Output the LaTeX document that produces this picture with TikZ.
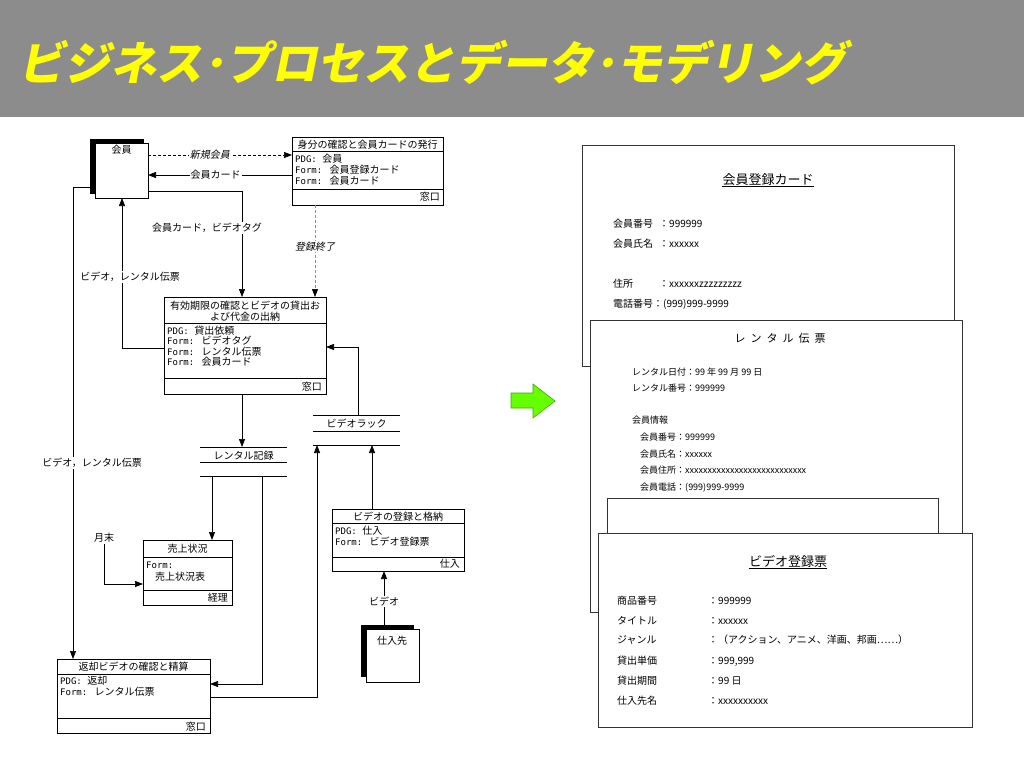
\documentclass[tikz,border=0pt]{standalone}
\usepackage{fontspec}
\setmainfont{Noto Sans CJK JP}
\newfontfamily\jpit[FakeSlant=0.2]{Noto Sans CJK JP}
\newfontfamily\titlefont[FakeSlant=0.2]{Noto Sans CJK JP}
\newfontfamily\monoft{DejaVu Sans Mono}
\usetikzlibrary{arrows.meta,calc}
\definecolor{hdr}{RGB}{140,140,140}
\definecolor{ttl}{RGB}{255,255,0}
\definecolor{grn}{RGB}{102,255,0}
\definecolor{grnd}{RGB}{60,170,0}
\newcommand\mo[1]{{\monoft\fontsize{9}{11}\selectfont #1}}
\begin{document}
\begin{tikzpicture}[x=1pt,y=-1pt,
  dfont/.style={font=\fontsize{10}{12}\selectfont},
  itfont/.style={font=\jpit\fontsize{10}{12}\selectfont},
  box/.style={draw,line width=0.8pt,fill=white,inner sep=0pt,outer sep=0pt,anchor=north west},
  store/.style={inner sep=0pt,outer sep=0pt,anchor=north west},
  card/.style={draw=black!80,line width=0.7pt,fill=white,inner sep=0pt,outer sep=0pt,anchor=north west},
  ln/.style={line width=0.7pt},
  arr/.style={ln,-{Triangle[length=8pt,width=6pt]}},
  lbl/.style={dfont,fill=white,inner sep=1pt},
  tx/.style={dfont,inner sep=0pt,anchor=base west},
  tc/.style={dfont,inner sep=0pt,anchor=base},
  tr/.style={dfont,inner sep=0pt,anchor=base east},
  ca/.style={font=\fontsize{10}{12}\selectfont,inner sep=0pt,anchor=base west},
  cb/.style={font=\fontsize{9}{11}\selectfont,inner sep=0pt,anchor=base west},
]
\useasboundingbox (0,0) rectangle (1024,768);
\fill[white] (0,0) rectangle (1024,768);
% header
\fill[hdr] (0,0) rectangle (1024,117);
\node[anchor=base west,inner sep=0pt,text=ttl,font=\titlefont\bfseries\fontsize{46}{52}\selectfont] (title) at (18,81) {ビジネス･プロセスとデータ･モデリング};

% external entities
\fill (90,139) rectangle (144,194);
\node[box,minimum width=53pt,minimum height=55pt] (kaiin) at (95,143) {};
\node[tc] at (121.5,153) {会員};
\fill (361,625) rectangle (414,677);
\node[box,minimum width=53pt,minimum height=53pt] (shiire) at (366,629) {};
\node[tc] at (392,644) {仕入先};

% process: 身分の確認
\node[box,minimum width=151pt,minimum height=68pt] (mibun) at (292,137) {};
\draw[ln] (mibun.west |- 0,151) -- (mibun.east |- 0,151);
\draw[ln] (mibun.west |- 0,189) -- (mibun.east |- 0,189);
\node[tc] at (367.5,148) {身分の確認と会員カードの発行};
\node[tx] at (295,162) {\mo{PDG: }会員};
\node[tx] at (295,173) {\mo{Form: }会員登録カード};
\node[tx] at (295,184) {\mo{Form: }会員カード};
\node[tr] at (440,200) {窓口};

% process: 有効期限
\node[box,minimum width=162pt,minimum height=97pt] (yuko) at (164,297) {};
\draw[ln] (yuko.west |- 0,323) -- (yuko.east |- 0,323);
\draw[ln] (yuko.west |- 0,378) -- (yuko.east |- 0,378);
\node[tc] at (245,309) {有効期限の確認とビデオの貸出お};
\node[tc] at (245,320) {よび代金の出納};
\node[tx] at (167,334) {\mo{PDG: }貸出依頼};
\node[tx] at (167,344.5) {\mo{Form: }ビデオタグ};
\node[tx] at (167,355) {\mo{Form: }レンタル伝票};
\node[tx] at (167,365.5) {\mo{Form: }会員カード};
\node[tr] at (322,390) {窓口};

% process: 返却
\node[box,minimum width=153pt,minimum height=74pt] (henkyaku) at (57,659) {};
\draw[ln] (henkyaku.west |- 0,674) -- (henkyaku.east |- 0,674);
\draw[ln] (henkyaku.west |- 0,718) -- (henkyaku.east |- 0,718);
\node[tc] at (133.5,670) {返却ビデオの確認と精算};
\node[tx] at (60,684) {\mo{PDG: }返却};
\node[tx] at (60,695) {\mo{Form: }レンタル伝票};
\node[tr] at (206,730) {窓口};

% process: 売上状況
\node[box,minimum width=89pt,minimum height=65pt] (uriage) at (143,540) {};
\draw[ln] (uriage.west |- 0,557) -- (uriage.east |- 0,557);
\draw[ln] (uriage.west |- 0,590) -- (uriage.east |- 0,590);
\node[tc] at (187.5,552) {売上状況};
\node[tx] at (146,568) {\mo{Form:}};
\node[tx] at (155,580) {売上状況表};
\node[tr] at (228,601) {経理};

% process: ビデオの登録と格納
\node[box,minimum width=132pt,minimum height=62pt] (toroku) at (332,509) {};
\draw[ln] (toroku.west |- 0,523) -- (toroku.east |- 0,523);
\draw[ln] (toroku.west |- 0,557) -- (toroku.east |- 0,557);
\node[tc] at (398,520) {ビデオの登録と格納};
\node[tx] at (335,534) {\mo{PDG: }仕入};
\node[tx] at (335,545) {\mo{Form: }ビデオ登録票};
\node[tr] at (460,567) {仕入};

% data stores
\node[store,minimum width=87pt,minimum height=30pt] (rack) at (313,415) {};
\draw[ln] (rack.north west) -- (rack.north east);
\draw[ln] (rack.west |- 0,431) -- (rack.east |- 0,431);
\draw[ln] (rack.south west) -- (rack.south east);
\node[tc] at (356.5,427) {ビデオラック};
\node[store,minimum width=87pt,minimum height=29pt] (kiroku) at (200,447) {};
\draw[ln] (kiroku.north west) -- (kiroku.north east);
\draw[ln] (kiroku.west |- 0,462) -- (kiroku.east |- 0,462);
\draw[ln] (kiroku.south west) -- (kiroku.south east);
\node[tc] at (243.5,459) {レンタル記録};

% connectors
\draw[arr,dash pattern=on 3pt off 2pt] (kaiin.east |- 0,155) -- (mibun.west |- 0,155) node[pos=0.43,lbl,itfont] {新規会員};
\draw[arr] (mibun.west |- 0,175) -- (kaiin.east |- 0,175) node[pos=0.53,lbl] {会員カード};
\draw[arr] (kaiin.east |- 0,191) -| (yuko.north -| 242,0);
\node[lbl] at (207,228) {会員カード，ビデオタグ};
\draw[ln,-{Triangle[length=8pt,width=6pt,color=black]},dash pattern=on 3pt off 2pt,black!45] (mibun.south -| 315,0) -- (yuko.north -| 315,0) node[pos=0.45,lbl,itfont,text=black] {登録終了};
\draw[arr] (yuko.west |- 0,348) -| (kaiin.south -| 122,0);
\node[lbl] at (130,277) {ビデオ，レンタル伝票};
\draw[arr] (kaiin.west |- 0,187) -| (henkyaku.north -| 73,0);
\node[lbl] at (92,463) {ビデオ，レンタル伝票};
\draw[arr] (yuko.south -| 242,0) -- (kiroku.north -| 242,0);
\draw[arr] (rack.north -| 358,0) |- (yuko.east |- 0,347);
\draw[arr] (kiroku.south -| 212,0) -- (uriage.north -| 212,0);
\draw[arr] (kiroku.south -| 262,0) |- (henkyaku.east |- 0,684);
\draw[arr] (henkyaku.east |- 0,697) -| (rack.south -| 317,0);
\draw[arr] (toroku.north -| 372,0) -- (rack.south -| 372,0);
\node[dfont,inner sep=1pt] (getsumatsu) at (104,538) {月末};
\draw[arr] (getsumatsu.south) |- (uriage.west |- 0,584);
\draw[arr] (shiire.north -| 384,0) -- (toroku.south -| 384,0) node[pos=0.48,lbl] {ビデオ};

% green arrow
\draw[grnd,fill=grn,line width=0.6pt] (511,393) -- (533,393) -- (533,384) -- (555,401) -- (533,418) -- (533,408) -- (511,408) -- cycle;

% card 1
\node[card,minimum width=372pt,minimum height=221pt] (card1) at (582,145) {};
\node[inner sep=0pt,anchor=base,font=\fontsize{13}{15}\selectfont] (c1t) at (768,184) {会員登録カード};
\draw[line width=0.6pt] ($(c1t.base west)+(0,2.5)$) -- ($(c1t.base east)+(0,2.5)$);
\node[ca] at (613,227) {会員番号};
\node[ca] at (659,227) {：999999};
\node[ca] at (613,247) {会員氏名};
\node[ca] at (659,247) {：xxxxxx};
\node[ca] at (613,287) {住所};
\node[ca] at (659,287) {：xxxxxxzzzzzzzzz};
\node[ca] at (613,307) {電話番号：(999)999-9999};

% card 2
\node[card,minimum width=372pt,minimum height=292pt] (card2) at (590,320) {};
\node[inner sep=0pt,anchor=base,font=\fontsize{11}{13}\selectfont] (c2t) at (780,342) {レ\kern5pt ン\kern5pt タ\kern5pt ル\kern5pt 伝\kern5pt 票};
\node[cb] at (632,375.5) {レンタル日付：99 年 99 月 99 日};
\node[cb] at (632,391.5) {レンタル番号：999999};
\node[cb] at (632,423.5) {会員情報};
\node[cb] at (640,440.5) {会員番号：999999};
\node[cb] at (640,457.5) {会員氏名：xxxxxx};
\node[cb] at (640,473.5) {会員住所：xxxxxxxxxxxxxxxxxxxxxxxxxxx};
\node[cb] at (640,490.5) {会員電話：(999)999-9999};
\node[card,minimum width=331pt,minimum height=42pt] (card2b) at (607,498) {};

% card 3
\node[card,minimum width=374pt,minimum height=194pt] (card3) at (598,533) {};
\node[inner sep=0pt,anchor=base,font=\fontsize{13}{15}\selectfont] (c3t) at (788,566) {ビデオ登録票};
\draw[line width=0.6pt] ($(c3t.base west)+(0,2.5)$) -- ($(c3t.base east)+(0,2.5)$);
\node[ca] at (617,604) {商品番号};
\node[ca] at (708,604) {：999999};
\node[ca] at (617,624) {タイトル};
\node[ca] at (708,624) {：xxxxxx};
\node[ca] at (617,643) {ジャンル};
\node[ca] at (708,643) {：（アクション、アニメ、洋画、邦画……）};
\node[ca] at (617,664) {貸出単価};
\node[ca] at (708,664) {：999,999};
\node[ca] at (617,684) {貸出期間};
\node[ca] at (708,684) {：99 日};
\node[ca] at (617,704) {仕入先名};
\node[ca] at (708,704) {：xxxxxxxxxx};
\end{tikzpicture}
\end{document}
